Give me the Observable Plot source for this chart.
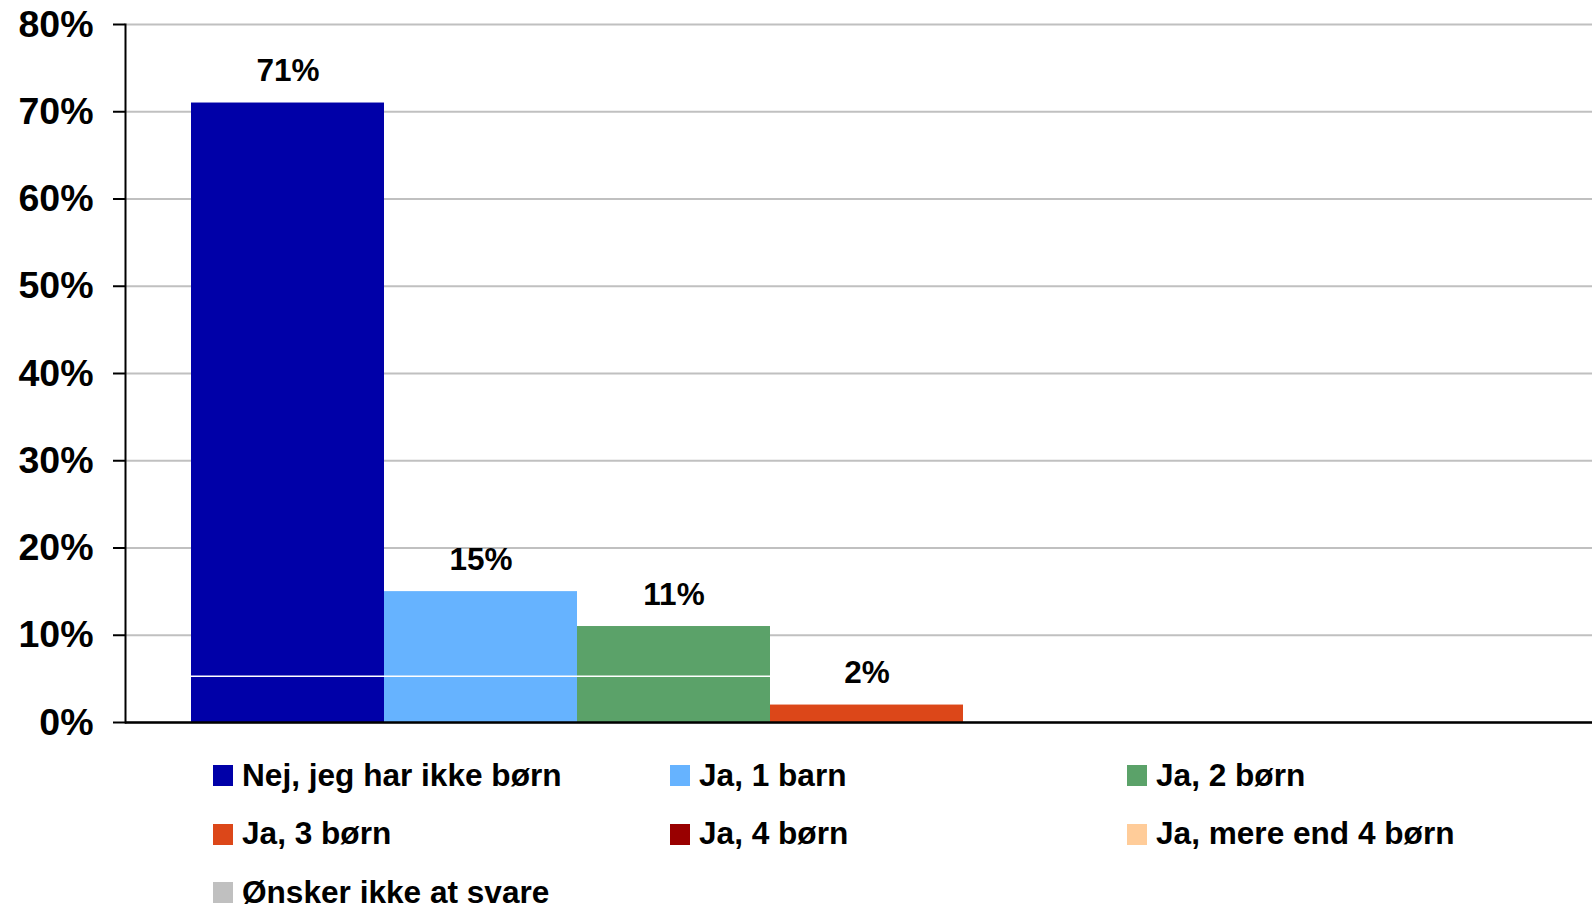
<!DOCTYPE html>
<html>
<head>
<meta charset="utf-8">
<script src="https://cdn.jsdelivr.net/npm/d3@7"></script>
<script src="https://cdn.jsdelivr.net/npm/@observablehq/plot@0.6"></script>
<style>
  html, body { margin: 0; padding: 0; background: #fff; overflow: hidden; }
  #wrap { position: relative; width: 1592px; height: 907px; font-family: "Liberation Sans", Arial, sans-serif; }
  #chart svg { display: block; }
  .item { position: absolute; display: flex; align-items: center; font-weight: bold; font-size: 31.6px; line-height: 1; color: #000; white-space: nowrap; }
  .sw { width: 20px; height: 21px; margin-right: 9px; flex: none; }
</style>
</head>
<body>
<div id="wrap">
  <div id="chart"></div>
  <div id="legend"></div>
</div>
<script>
const categories = ["Nej, jeg har ikke børn", "Ja, 1 barn", "Ja, 2 børn", "Ja, 3 børn", "Ja, 4 børn", "Ja, mere end 4 børn", "Ønsker ikke at svare"];
const values = [71, 15, 11, 2, 0, 0, 0];
const colors = ["#0000a8", "#66b3ff", "#5ba269", "#dc4719", "#990000", "#ffcc99", "#c0c0c0"];
const yTicks = [0, 10, 20, 30, 40, 50, 60, 70, 80];
const seamLevel = 5.3;

const data = categories.map((name, i) => ({name, value: values[i]}));

const chart = Plot.plot({
  width: 1592,
  height: 745,
  marginLeft: 125,
  marginRight: 0,
  marginTop: 24,
  marginBottom: 23,
  style: {fontFamily: "'Liberation Sans', Arial, sans-serif", background: "#fff"},
  x: {type: "band", domain: categories, range: [191, 191 + 7 * 193], padding: 0, axis: null},
  y: {domain: [0, 80], label: null},
  color: {domain: categories, range: colors},
  marks: [
    Plot.gridY(yTicks, {stroke: "#c0c0c0", strokeOpacity: 1, strokeWidth: 2}),
    Plot.barY(data, {x: "name", y: "value", fill: "name"}),
    Plot.tickY(data.filter(d => d.value > seamLevel), {x: "name", y: () => seamLevel, stroke: "white", strokeWidth: 1.5}),
    Plot.text(data.filter(d => d.value > 0), {x: "name", y: "value", text: d => d.value + "%", dy: -22, lineAnchor: "bottom", fontSize: 31.5, fontWeight: "bold", fill: "black"}),
    Plot.axisY({ticks: yTicks, tickFormat: d => d + "%", label: null, tickSize: 12, tickPadding: 20, fontSize: 37.5, fontWeight: "bold", stroke: "black", strokeWidth: 2, fill: "black"}),
    Plot.frame({anchor: "left", stroke: "black", strokeWidth: 2}),
    Plot.ruleY([0], {stroke: "black", strokeWidth: 2.5})
  ]
});
document.getElementById("chart").appendChild(chart);

const legend = document.getElementById("legend");
categories.forEach((name, i) => {
  const col = i % 3, row = Math.floor(i / 3);
  const item = document.createElement("div");
  item.className = "item";
  item.style.left = (213 + col * 457) + "px";
  item.style.top = (765 + row * 58.5) + "px";
  item.style.height = "21px";
  const sw = document.createElement("span");
  sw.className = "sw";
  sw.style.background = colors[i];
  const tx = document.createElement("span");
  tx.textContent = name;
  item.appendChild(sw);
  item.appendChild(tx);
  legend.appendChild(item);
});
</script>
</body>
</html>
